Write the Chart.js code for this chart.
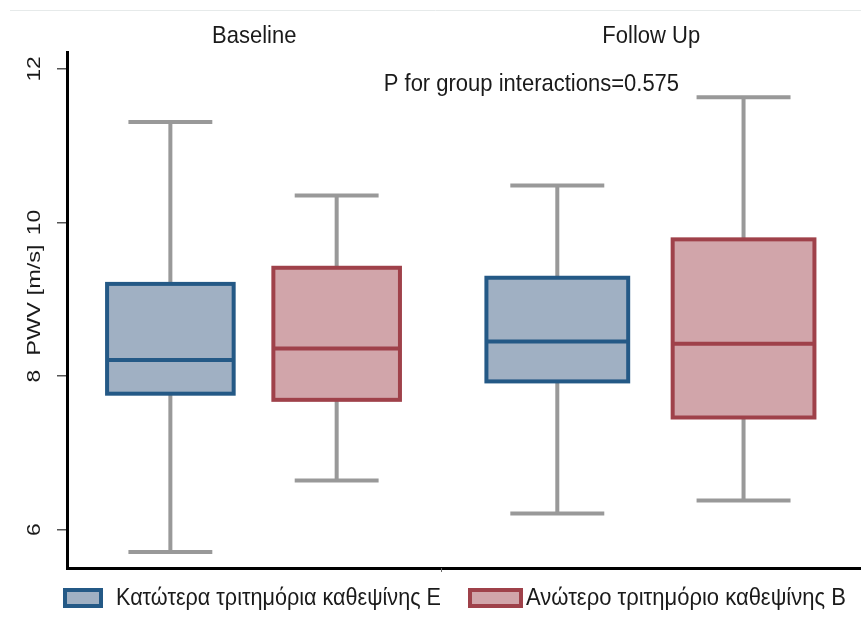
<!DOCTYPE html>
<html>
<head>
<meta charset="utf-8">
<script src="https://cdn.jsdelivr.net/npm/chart.js@4.4.1/dist/chart.umd.min.js"></script>
<style>
  html, body { margin: 0; padding: 0; background: #fff; }
  canvas { display: block; }
</style>
</head>
<body>
<canvas id="chart" width="861" height="630"></canvas>
<script>
// ── Данные ───────────────────────────────────────────────────────────
const panels      = ['Baseline', 'Follow Up'];
const seriesNames = ['Κατώτερα τριτημόρια καθεψίνης Ε', 'Ανώτερο τριτημόριο καθεψίνης Β'];

// нижний тертиль: [Baseline, Follow Up]
const lowMin = [5.71, 6.21];
const lowQ1  = [7.77, 7.93];
const lowMed = [8.21, 8.45];
const lowQ3  = [9.20, 9.28];
const lowMax = [11.31, 10.48];

// верхний тертиль
const highMin = [6.64, 6.38];
const highQ1  = [7.69, 7.46];
const highMed = [8.36, 8.42];
const highQ3  = [9.41, 9.78];
const highMax = [10.35, 11.63];

const yTicks   = [6, 8, 10, 12];
const yTitle   = 'PWV [m/s]';
const noteText = 'P for group interactions=0.575';

// ── Оформление ──────────────────────────────────────────────────────
const FONT       = '"Liberation Sans", Arial, sans-serif';
const TEXT_COLOR = '#1a1a1a';
const WHISKER    = '#999999';
const panelWidths = [1, 1.12];           // ширина панелей в единицах оси x
const boxOffsets  = [0.276, 0.72];       // центр бокса внутри панели (доля)
const boxFrac     = 0.338;               // ширина бокса (доля панели)
const capFrac     = 0.224;               // ширина «усов»

function panelStart(i) { return panelWidths.slice(0, i).reduce((s, v) => s + v, 0); }
function boxCenter(p, s) { return panelStart(p) + boxOffsets[s] * panelWidths[p]; }

const seriesStats = [
  { min: lowMin,  q1: lowQ1,  med: lowMed,  q3: lowQ3,  max: lowMax,
    fill: '#a0b0c3', stroke: '#245986' },
  { min: highMin, q1: highQ1, med: highMed, q3: highQ3, max: highMax,
    fill: '#d1a5aa', stroke: '#9f414a' },
];

function drawText(ctx, s, x, y, opts = {}) {
  const { size = 22, align = 'center', rot = 0, sx = 1, sy = 1.1 } = opts;
  ctx.save();
  ctx.translate(x, y);
  ctx.rotate(rot);
  ctx.scale(sx, sy);
  ctx.font         = `${size}px ${FONT}`;
  ctx.fillStyle    = TEXT_COLOR;
  ctx.textAlign    = align;
  ctx.textBaseline = 'middle';
  ctx.fillText(s, 0, 0);
  ctx.restore();
}

// ── Плагин боксплотов ───────────────────────────────────────────────
const boxPlotPlugin = {
  id: 'boxPlots',
  beforeDatasetsDraw(chart) {
    const { ctx, scales: { x, y } } = chart;
    ctx.save();
    seriesStats.forEach((st, s) => {
      panels.forEach((_, p) => {
        const cx   = x.getPixelForValue(boxCenter(p, s));
        const half = (x.getPixelForValue(boxFrac * panelWidths[p]) - x.getPixelForValue(0)) / 2;
        const cap  = (x.getPixelForValue(capFrac * panelWidths[p]) - x.getPixelForValue(0)) / 2;
        const yMin = y.getPixelForValue(st.min[p]);
        const yQ1  = y.getPixelForValue(st.q1[p]);
        const yMed = y.getPixelForValue(st.med[p]);
        const yQ3  = y.getPixelForValue(st.q3[p]);
        const yMax = y.getPixelForValue(st.max[p]);

        // усы
        ctx.strokeStyle = WHISKER;
        ctx.lineWidth   = 4;
        ctx.lineCap     = 'butt';
        ctx.beginPath();
        ctx.moveTo(cx, yQ3);  ctx.lineTo(cx, yMax);
        ctx.moveTo(cx, yQ1);  ctx.lineTo(cx, yMin);
        ctx.moveTo(cx - cap, yMax); ctx.lineTo(cx + cap, yMax);
        ctx.moveTo(cx - cap, yMin); ctx.lineTo(cx + cap, yMin);
        ctx.stroke();

        // бокс
        ctx.fillStyle   = st.fill;
        ctx.strokeStyle = st.stroke;
        ctx.lineWidth   = 4;
        ctx.fillRect(cx - half, yQ3, half * 2, yQ1 - yQ3);
        ctx.strokeRect(cx - half, yQ3, half * 2, yQ1 - yQ3);
        ctx.beginPath();
        ctx.moveTo(cx - half, yMed); ctx.lineTo(cx + half, yMed);
        ctx.stroke();
      });
    });
    ctx.restore();
  },
  afterDraw(chart) {
    const { ctx, scales: { x, y } } = chart;

    // тонкая линия сверху (рамка исходной картинки)
    ctx.save();
    ctx.strokeStyle = '#e6eaea';
    ctx.lineWidth = 1;
    ctx.beginPath(); ctx.moveTo(10, 10.5); ctx.lineTo(861, 10.5); ctx.stroke();

    // маленькая засечка между панелями
    const sep = x.getPixelForValue(panelStart(1));
    ctx.strokeStyle = '#666';
    ctx.lineWidth = 1;
    ctx.beginPath(); ctx.moveTo(sep, y.bottom); ctx.lineTo(sep, y.bottom + 4); ctx.stroke();
    ctx.restore();

    // заголовки панелей
    panels.forEach((name, p) => {
      const cx = x.getPixelForValue(panelStart(p) + panelWidths[p] / 2);
      drawText(ctx, name, cx, 36);
    });

    // подписи делений оси y (повернуты, слегка вытянуты)
    yTicks.forEach(v => {
      drawText(ctx, String(v), 35, y.getPixelForValue(v), { rot: -Math.PI / 2, size: 19, sx: 1.2, sy: 1 });
    });
    drawText(ctx, yTitle, 35, 300, { rot: -Math.PI / 2, size: 19, sx: 1.24, sy: 1 });

    // аннотация
    drawText(ctx, noteText, x.getPixelForValue(1.24), y.getPixelForValue(11.8));

    // легенда
    const keys = [{ x: 63, w: 40, tx: 116 }, { x: 468, w: 55, tx: 526 }];
    chart.data.datasets.forEach((ds, i) => {
      const k = keys[i];
      ctx.save();
      ctx.fillStyle   = ds.backgroundColor;
      ctx.strokeStyle = ds.borderColor;
      ctx.lineWidth   = 4;
      ctx.fillRect(k.x + 2, 590, k.w - 4, 16);
      ctx.strokeRect(k.x + 2, 590, k.w - 4, 16);
      ctx.restore();
      drawText(ctx, ds.label, k.tx, 598, { align: 'left', size: i === 0 ? 21.6 : 22 });
    });
  },
};

// ── Построение графика ──────────────────────────────────────────────
new Chart(document.getElementById('chart'), {
  type: 'scatter',
  data: {
    datasets: seriesStats.map((st, s) => ({
      label:           seriesNames[s],
      data:            panels.map((_, p) => ({ x: boxCenter(p, s), y: st.med[p] })),
      backgroundColor: st.fill,
      borderColor:     st.stroke,
      pointRadius:     0,
      pointHoverRadius: 0,
    })),
  },
  options: {
    responsive: false,
    animation:  false,
    devicePixelRatio: 1,
    layout: { padding: { left: 57, right: 0, top: 52, bottom: 62 } },
    scales: {
      x: {
        type: 'linear',
        min: 0,
        max: panelWidths.reduce((s, v) => s + v, 0),
        ticks:  { display: false },
        grid:   { display: false, drawTicks: false },
        border: { display: true, color: '#000', width: 3 },
      },
      y: {
        min: 5.5,
        max: 12.22,
        afterBuildTicks: axis => { axis.ticks = yTicks.map(v => ({ value: v })); },
        ticks:  { display: false },
        grid:   { display: true, drawOnChartArea: false, drawTicks: true, tickLength: 10, color: '#555', lineWidth: 1.5 },
        border: { display: true, color: '#000', width: 3 },
      },
    },
    plugins: {
      legend:  { display: false },
      tooltip: { enabled: false },
    },
  },
  plugins: [boxPlotPlugin],
});
</script>
</body>
</html>
